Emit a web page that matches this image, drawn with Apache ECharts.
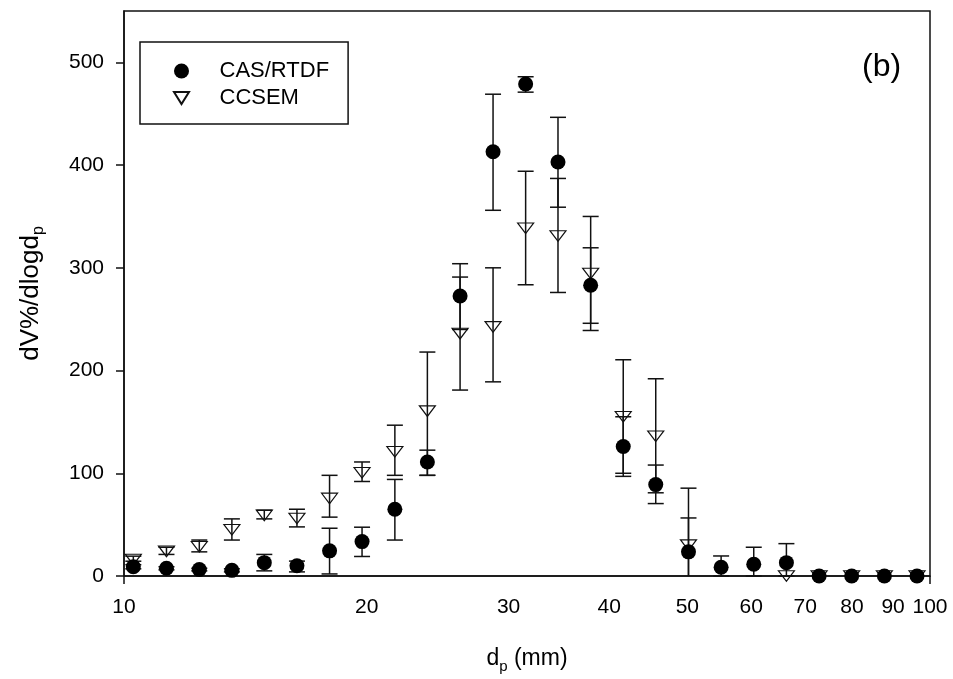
<!DOCTYPE html>
<html><head><meta charset="utf-8">
<script src="https://cdn.jsdelivr.net/npm/echarts@6/dist/echarts.min.js"></script>
<style>html,body{margin:0;padding:0;background:#fff}#c{width:953px;height:679px}</style>
</head><body><div id="c"></div>
<script>
// particle diameters (µm)
const diameters = [10.27, 11.29, 12.40, 13.61, 14.93, 16.39, 17.99, 19.74, 21.68, 23.79, 26.12, 28.70, 31.50, 34.55, 37.93, 41.63, 45.68, 50.16, 55.06, 60.44, 66.35, 72.85, 79.95, 87.78, 96.36];
// CAS/RTDF
const casValues = [9, 7.5, 6.3, 5.5, 13, 10, 24.5, 33.5, 65, 111, 272.5, 413, 479, 403, 283, 126, 89, 23.5, 8.5, 11.5, 13, 0, 0, 0, 0];
const casLow    = [7, 6, 5, 4, 5, 4, 2, 19, 35, 98, 240, 356, 471, 359, 246, 97, 70.5, -10, 0, 0, 0, 0, 0, 0, 0];
const casHigh   = [11, 9, 7.5, 7, 21, 14.5, 46.5, 47.5, 94, 122.5, 304, 469, 486, 446.5, 319.5, 155, 108, 56.5, 19.5, 28, 31.5, 0, 0, 0, 0];
// CCSEM
const ccsemValues = [16, 24, 28.5, 45, 59, 56, 75.5, 100.5, 121, 160.5, 236, 242.5, 338.5, 331, 294.5, 155, 136, 30, null, null, 0, 0, 0, 0, 0];
const ccsemLow    = [14.4, 21, 23.5, 35, 55.6, 47.8, 57.3, 92, 98, 98, 181, 189, 283.5, 276, 239, 100, 81, -25, null, null, 0, 0, 0, 0, 0];
const ccsemHigh   = [19.3, 28, 35, 55.6, 64, 65, 98, 111, 146.8, 218, 291, 300, 394, 387, 350, 210.5, 192, 85.5, null, null, 0, 0, 0, 0, 0];
// tick labels
const xTickLabels = [10, 20, 30, 40, 50, 60, 70, 80, 90, 100];
const xTickMarks = [10, 100];
const yTickLabels = [0, 100, 200, 300, 400, 500];

const FONT = "'Liberation Sans', Arial, sans-serif";
const INK = '#111';

function pts(vals) {
  const out = [];
  diameters.forEach((d, i) => { if (vals[i] !== null) out.push([d, vals[i]]); });
  return out;
}
function bars(lo, hi) {
  const out = [];
  diameters.forEach((d, i) => { if (lo[i] !== null && hi[i] > lo[i]) out.push([d, lo[i], hi[i]]); });
  return out;
}
function errRender(params, api) {
  const x = api.value(0), lo = api.value(1), hi = api.value(2);
  const top = api.coord([x, hi]);
  const bot = api.coord([x, Math.max(lo, 0)]);
  const hw = 8;
  const st = { stroke: INK, lineWidth: 1.5 };
  const ch = [
    { type: 'line', shape: { x1: top[0], y1: top[1], x2: bot[0], y2: bot[1] }, style: st },
    { type: 'line', shape: { x1: top[0] - hw, y1: top[1], x2: top[0] + hw, y2: top[1] }, style: st }
  ];
  if (lo >= 0) ch.push({ type: 'line', shape: { x1: bot[0] - hw, y1: bot[1], x2: bot[0] + hw, y2: bot[1] }, style: st });
  return { type: 'group', children: ch };
}

const triPath = 'path://M0,0L16,0L8,13Z';
const triLegend = 'path://M7.5,-1.5M0,0L15,0L7.5,12ZM7.5,13.5';

const chart = echarts.init(document.getElementById('c'), null, { renderer: 'canvas' });
chart.setOption({
  animation: false,
  backgroundColor: '#fff',
  textStyle: { fontFamily: FONT },
  grid: { left: 124, right: 23, top: 11, bottom: 103, show: true, borderColor: INK, borderWidth: 1.5, backgroundColor: 'transparent' },
  legend: {
    left: 140, top: 42, orient: 'vertical',
    padding: [18, 19, 15, 33],
    itemWidth: 66, itemHeight: 15, itemGap: 5,
    borderColor: INK, borderWidth: 1.5,
    selectedMode: false,
    textStyle: { fontSize: 22, color: '#000', fontFamily: FONT },
    data: [{ name: 'CAS/RTDF', icon: 'circle' }, { name: 'CCSEM', icon: triLegend }]
  },
  graphic: [{ type: 'text', left: 862, top: 51, style: { text: '(b)', font: "32px 'Liberation Sans', Arial, sans-serif", fill: '#000' } }],
  xAxis: {
    type: 'log', logBase: 10, min: 10, max: 100,
    name: '{a|d}{s|p}{a| (mm)}', nameLocation: 'middle', nameGap: 68,
    nameTextStyle: { rich: { a: { fontSize: 23, color: '#000', fontFamily: FONT }, s: { fontSize: 15, color: '#000', fontFamily: FONT, padding: [15, 0, 0, 0] } } },
    axisLine: { lineStyle: { color: INK, width: 1.5 } },
    axisTick: { show: true, inside: false, length: 8, lineStyle: { color: INK, width: 1.5 }, customValues: xTickMarks },
    minorTick: { show: false },
    axisLabel: { fontSize: 21, color: '#000', margin: 21, customValues: xTickLabels, fontFamily: FONT },
    splitLine: { show: false }
  },
  yAxis: {
    type: 'value', min: 0, max: 550,
    name: '{a|dV%/dlogd}{s|p}', nameLocation: 'middle', nameGap: 77, nameRotate: 90,
    nameTextStyle: { rich: { a: { fontSize: 26, color: '#000', fontFamily: FONT }, s: { fontSize: 16, color: '#000', fontFamily: FONT, padding: [16, 0, 0, 0] } } },
    axisLine: { show: true, lineStyle: { color: INK, width: 1.5 } },
    axisTick: { show: true, inside: false, length: 8, lineStyle: { color: INK, width: 1.5 }, customValues: yTickLabels },
    axisLabel: { fontSize: 21, color: '#000', margin: 20, customValues: yTickLabels, fontFamily: FONT },
    splitLine: { show: false }
  },
  series: [
    { name: 'errCCSEM', type: 'custom', renderItem: errRender, data: bars(ccsemLow, ccsemHigh), encode: { x: 0, y: [1, 2] }, z: 2, silent: true },
    { name: 'errCAS', type: 'custom', renderItem: errRender, data: bars(casLow, casHigh), encode: { x: 0, y: [1, 2] }, z: 2, silent: true },
    { name: 'CCSEM', type: 'scatter', data: pts(ccsemValues), symbol: triPath, symbolSize: [16, 13], symbolKeepAspect: true,
      itemStyle: { color: 'rgba(0,0,0,0)', borderColor: INK, borderWidth: 1.2, opacity: 1 }, z: 3, clip: false },
    { name: 'CAS/RTDF', type: 'scatter', data: pts(casValues), symbol: 'circle', symbolSize: 15, symbolKeepAspect: true,
      itemStyle: { color: '#000', opacity: 1 }, z: 4, clip: false }
  ]
});
</script></body></html>
